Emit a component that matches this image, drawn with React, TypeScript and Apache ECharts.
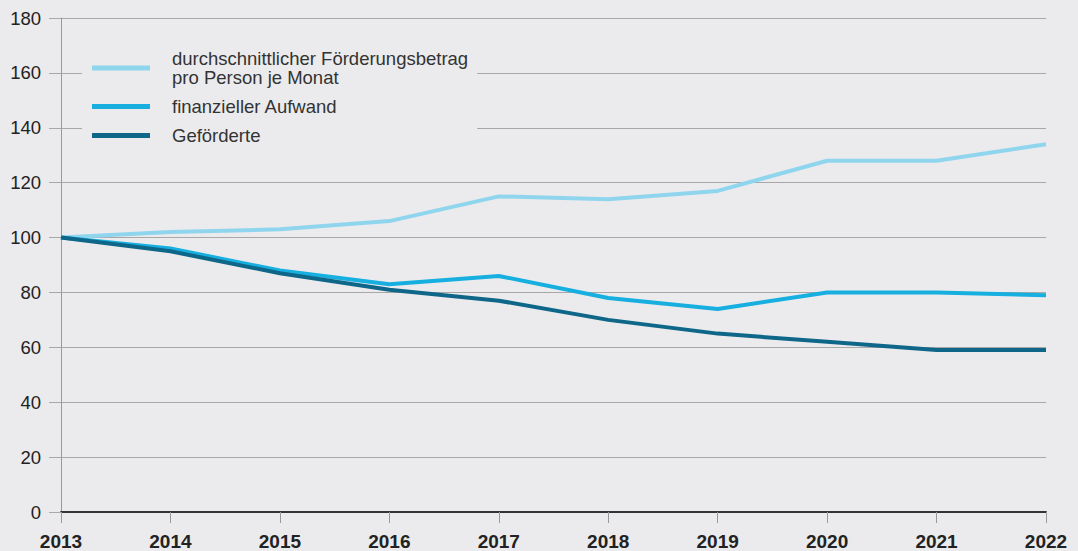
import React, { useEffect, useRef } from "react";
import * as echarts from "echarts";

const years = ["2013", "2014", "2015", "2016", "2017", "2018", "2019", "2020", "2021", "2022"];
const foerderbetrag = [100, 102, 103, 106, 115, 114, 117, 128, 128, 134];
const aufwand = [100, 96, 88, 83, 86, 78, 74, 80, 80, 79];
const gefoerderte = [100, 95, 87, 81, 77, 70, 65, 62, 59, 59];
const seriesNames = [
  "durchschnittlicher Förderungsbetrag\npro Person je Monat",
  "finanzieller Aufwand",
  "Geförderte",
];
const colors = ["#90d5ee", "#16afe0", "#0e6688"];

const BG = "#ebebed";

export default function App() {
  const ref = useRef<HTMLDivElement>(null);
  useEffect(() => {
    const chart = echarts.init(ref.current!, undefined, { renderer: "svg" });
    const mk = (name: string, data: number[], color: string, z: number) => ({
      name,
      type: "line",
      data,
      symbol: "none",
      z,
      lineStyle: { color, width: 4 },
      itemStyle: { color },
    });
    chart.setOption({
      animation: false,
      backgroundColor: BG,
      textStyle: { fontFamily: "Liberation Sans, Arial, sans-serif" },
      grid: { left: 61, right: 32, top: 18, bottom: 39, containLabel: false },
      legend: {
        orient: "vertical",
        left: 82,
        top: 47,
        padding: [2, 9, 2, 10],
        itemGap: 10,
        backgroundColor: BG,
        itemWidth: 58,
        itemHeight: 5,
        icon: "rect",
        z: 10,
        textStyle: {
          fontSize: 18.5,
          lineHeight: 19,
          color: "#333",
          padding: [0, 0, 0, 17],
        },
        data: seriesNames.map((n, i) => ({ name: n, itemStyle: { color: colors[i] } })),
      },
      xAxis: {
        type: "category",
        data: years,
        boundaryGap: false,
        axisLine: { lineStyle: { color: "#333", width: 2 } },
        axisTick: { length: 11, lineStyle: { color: "#999", width: 1 } },
        axisLabel: {
          fontSize: 19,
          fontWeight: "bold",
          color: "#222",
          margin: 20,
          showMaxLabel: true,
          showMinLabel: true,
        },
        splitLine: { show: false },
      },
      yAxis: {
        type: "value",
        min: 0,
        max: 180,
        interval: 20,
        axisLine: { show: true, lineStyle: { color: "#999", width: 1 } },
        axisTick: { show: true, length: 12, lineStyle: { color: "#a8a8a8", width: 1 } },
        axisLabel: { fontSize: 18.5, color: "#222", margin: 20 },
        splitLine: { show: true, lineStyle: { color: "#a8a8a8", width: 1 } },
      },
      series: [
        mk(seriesNames[0], foerderbetrag, colors[0], 2),
        mk(seriesNames[1], aufwand, colors[1], 3),
        mk(seriesNames[2], gefoerderte, colors[2], 4),
      ],
    });
    return () => chart.dispose();
  }, []);
  return <div ref={ref} style={{ width: 1078, height: 551, position: "absolute", left: 0, top: 0 }} />;
}
